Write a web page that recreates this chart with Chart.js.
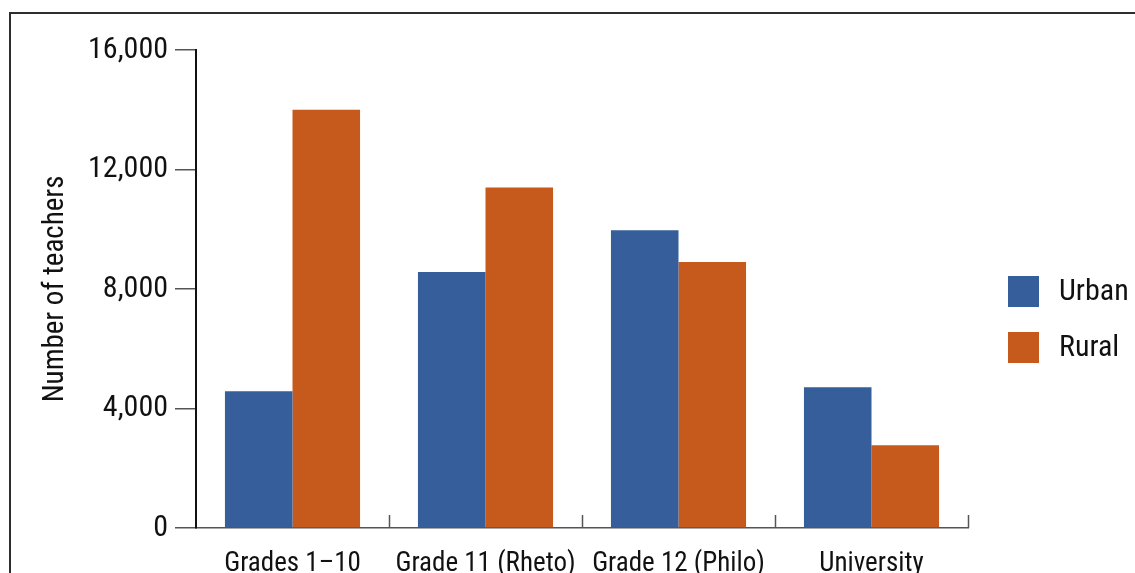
<!DOCTYPE html>
<html>
<head>
<meta charset="utf-8">
<script src="https://cdn.jsdelivr.net/npm/chart.js@4.4.1/dist/chart.umd.min.js"></script>
<style>
  html, body { margin: 0; padding: 0; background: #fff; overflow: hidden; }
  #wrap { position: relative; width: 1135px; height: 573px; }
  #frame { position: absolute; left: 9px; top: 12px; width: 2000px; height: 2000px;
           border-left: 2px solid #2e2e2e; border-top: 2px solid #2e2e2e; box-sizing: border-box; }
  canvas { position: absolute; left: 0; top: 0; }
</style>
</head>
<body>
<div id="wrap">
  <div id="frame"></div>
  <canvas id="c" width="1135" height="573"></canvas>
</div>
<script>
const categories = ['Grades 1\u201310', 'Grade 11 (Rheto)', 'Grade 12 (Philo)', 'University'];
const urban = [4580, 8570, 9970, 4710];
const rural = [14000, 11400, 8900, 2770];
const seriesNames = ['Urban', 'Rural'];
const seriesColors = ['#365E9B', '#C55A1C'];
const yTicks = [0, 4000, 8000, 12000, 16000];

const FONT = '"Liberation Sans Narrow", "Arial Narrow", "Roboto Condensed", sans-serif';

// Small upward tick marks on the category axis, one at the end of each group
const groupTicks = {
  id: 'groupTicks',
  afterDraw(chart) {
    const x = chart.scales.x;
    const ctx = chart.ctx;
    const step = x.getPixelForValue(1) - x.getPixelForValue(0);
    ctx.save();
    ctx.strokeStyle = '#555';
    ctx.lineWidth = 1.5;
    for (let i = 0; i < categories.length; i++) {
      const px = Math.round(x.getPixelForValue(i) + step / 2) + 0.5;
      ctx.beginPath();
      ctx.moveTo(px, x.top);
      ctx.lineTo(px, x.top - 13);
      ctx.stroke();
    }
    ctx.restore();
  }
};

// Legend drawn to the right of the plot
const sideLegend = {
  id: 'sideLegend',
  afterDraw(chart) {
    const ctx = chart.ctx;
    ctx.save();
    ctx.font = '30px ' + FONT;
    ctx.textBaseline = 'middle';
    ctx.textAlign = 'left';
    chart.data.datasets.forEach((ds, i) => {
      const top = 276 + i * 56;
      ctx.fillStyle = ds.backgroundColor;
      ctx.fillRect(1008, top, 31, 31);
      ctx.fillStyle = '#111';
      ctx.fillText(ds.label, 1059, top + 16);
    });
    ctx.restore();
  }
};

new Chart(document.getElementById('c'), {
  type: 'bar',
  data: {
    labels: categories,
    datasets: [
      { label: seriesNames[0], data: urban, backgroundColor: seriesColors[0] },
      { label: seriesNames[1], data: rural, backgroundColor: seriesColors[1] }
    ]
  },
  options: {
    responsive: false,
    animation: false,
    devicePixelRatio: 1,
    categoryPercentage: 0.7,
    barPercentage: 1.0,
    layout: { padding: { top: 50, right: 167, bottom: 0, left: 0 } },
    plugins: { legend: { display: false }, tooltip: { enabled: false } },
    scales: {
      x: {
        grid: { display: false, drawTicks: false },
        border: { display: true, color: '#555', width: 1.5 },
        ticks: { color: '#111', padding: 20, font: { family: FONT, size: 27 }, maxRotation: 0, autoSkip: false },
        afterFit(s) { s.height = 45; }
      },
      y: {
        min: 0, max: 16000,
        afterBuildTicks(s) { s.ticks = yTicks.map(v => ({ value: v })); },
        grid: { display: true, drawOnChartArea: false, drawTicks: true, tickLength: 21, color: '#555', lineWidth: 1.5 },
        border: { display: true, color: '#111', width: 2 },
        ticks: { color: '#111', padding: 7, font: { family: FONT, size: 30 },
                 callback: v => v.toLocaleString('en-US') },
        title: { display: true, text: 'Number of teachers', color: '#111',
                 font: { family: FONT, size: 29, lineHeight: 1.2 }, padding: { top: 38, bottom: 0 } },
        afterFit(s) { s.width = 196; }
      }
    }
  },
  plugins: [groupTicks, sideLegend]
});
</script>
</body>
</html>
